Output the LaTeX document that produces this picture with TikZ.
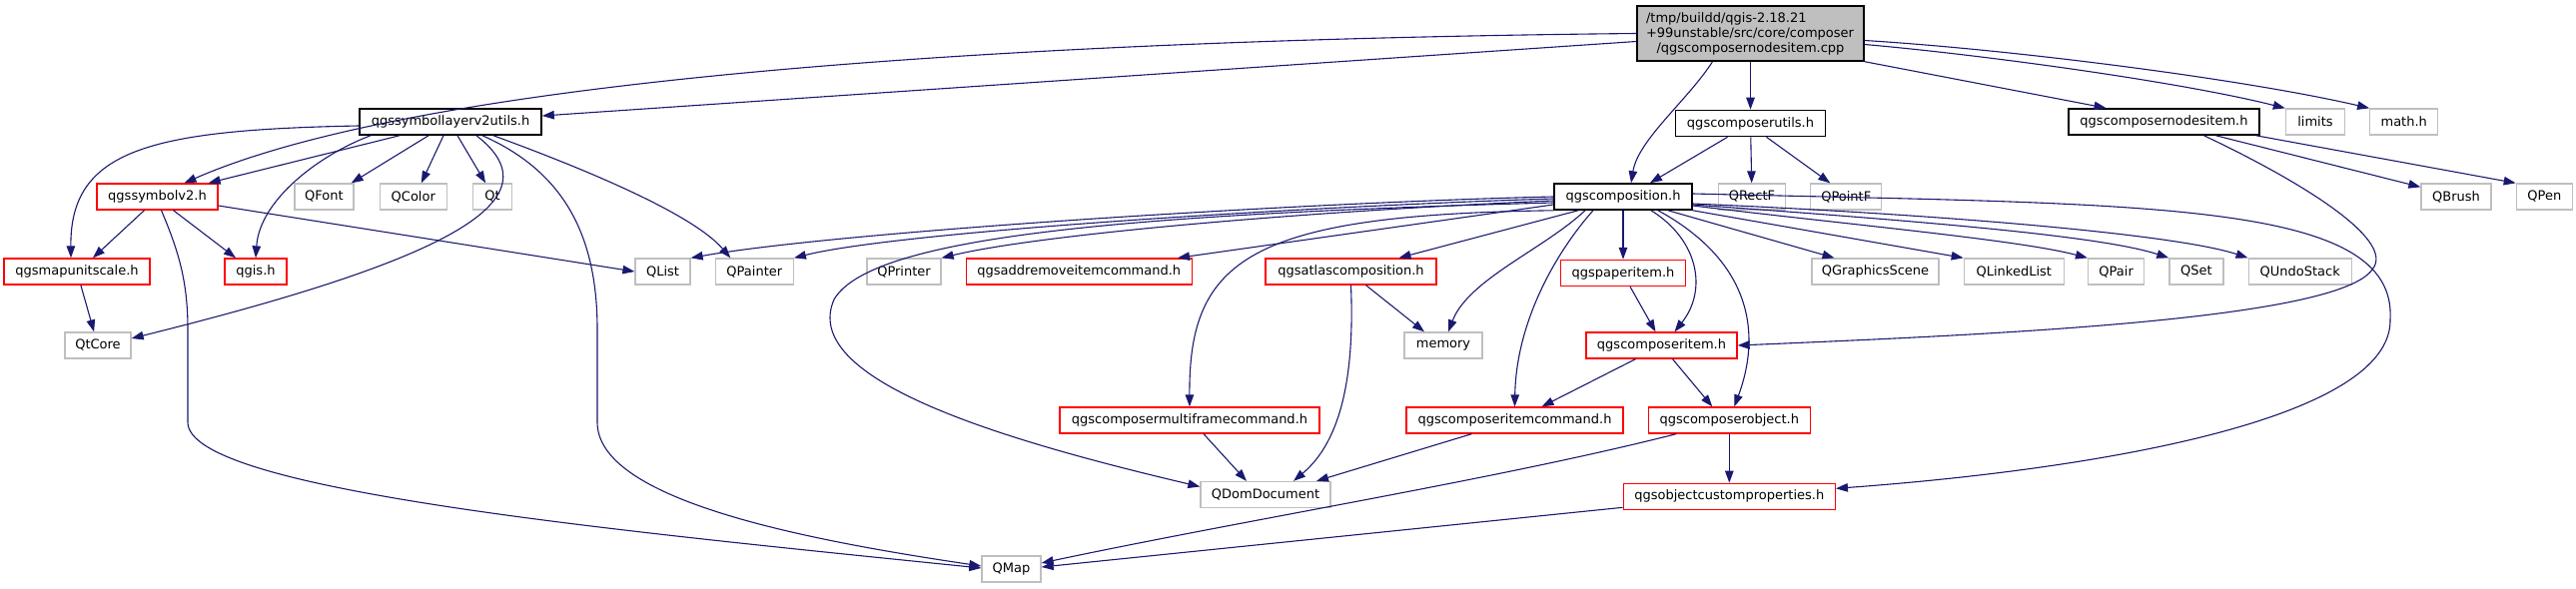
\documentclass[tikz,border=0pt]{standalone}
\usepackage{fontspec}
\setmainfont{DejaVu Sans}
\usetikzlibrary{arrows.meta, positioning}
\definecolor{edgeblue}{RGB}{25,25,112}
\definecolor{sysgray}{RGB}{191,191,191}

\begin{document}
\begin{tikzpicture}[
    x=1pt, y=-1pt,
    node distance=49pt and 24pt,
    current/.style={rectangle, draw=black, line width=1.4pt, fill=sysgray, align=left, text width=209pt, inner xsep=9pt, inner ysep=0pt, minimum height=55pt, font=\fontsize{13}{15}\selectfont},
    header/.style={rectangle, draw=black, line width=1.6pt, inner sep=0pt, minimum height=26pt, font=\fontsize{13}{15}\selectfont},
    partial/.style={rectangle, draw=red, line width=1.3pt, inner sep=0pt, minimum height=26pt, font=\fontsize{13}{15}\selectfont},
    external/.style={rectangle, draw=sysgray, line width=1.3pt, inner sep=0pt, minimum height=26pt, font=\fontsize{13}{15}\selectfont},
    arrow/.style={-{Triangle[length=12pt, width=8.5pt]}, draw=edgeblue, line width=1.1pt}
]
\useasboundingbox (0,0) rectangle (2579,589);

\node[current] (cpp) at (1752.5,33.5) {/tmp/buildd/qgis-2.18.21\\+99unstable/src/core/composer\\\makebox[209pt]{/qgscomposernodesitem.cpp}};

\node[header, minimum width=182pt] (symlayer) at (451,122) {qgssymbollayerv2utils.h};
\node[header, minimum width=150pt, below=48pt of cpp] (cutils) {qgscomposerutils.h};
\node[header, minimum width=191pt] (nodesh) at (2166.5,122) {qgscomposernodesitem.h};
\node[external, minimum width=59pt, right=25pt of nodesh] (limits) {limits};
\node[external, minimum width=68pt, right=of limits] (mathh) {math.h};

\node[partial, minimum width=121pt] (symbol) at (157.5,197) {qgssymbolv2.h};
\node[external, minimum width=59pt] (qfont) at (324.5,197) {QFont};
\node[external, minimum width=67pt, right=25pt of qfont] (qcolor) {QColor};
\node[external, minimum width=39pt, right=25pt of qcolor] (qt) {Qt};
\node[header, minimum width=138pt] (composition) at (1625,197) {qgscomposition.h};
\node[external, minimum width=67pt, right=25pt of composition] (qrectf) {QRectF};
\node[external, minimum width=71pt, right=of qrectf] (qpointf) {QPointF};
\node[external, minimum width=70pt] (qbrush) at (2459,197) {QBrush};
\node[external, minimum width=56pt, right=of qbrush] (qpen) {QPen};

\node[partial, minimum width=146pt] (mapunit) at (77,272) {qgsmapunitscale.h};
\node[partial, minimum width=62pt] (qgis) at (256,272) {qgis.h};
\node[external, minimum width=55pt] (qlist) at (663.5,272) {QList};
\node[external, minimum width=78pt, right=of qlist] (qpainter) {QPainter};
\node[external, minimum width=74pt] (qprinter) at (905,272) {QPrinter};
\node[partial, minimum width=226pt, right=of qprinter] (addremove) {qgsaddremoveitemcommand.h};
\node[partial, minimum width=171pt] (atlas) at (1352.5,272) {qgsatlascomposition.h};
\node[partial, minimum width=125pt, below=of composition] (paper) {qgspaperitem.h};
\node[external, minimum width=127pt] (gscene) at (1877.5,272) {QGraphicsScene};
\node[external, minimum width=100pt, right=of gscene] (qlinked) {QLinkedList};
\node[external, minimum width=56pt, right=23pt of qlinked] (qpair) {QPair};
\node[external, minimum width=54pt, right=of qpair] (qset) {QSet};
\node[external, minimum width=103pt, right=of qset] (qundo) {QUndoStack};

\node[external, minimum width=66pt] (qtcore) at (98,346) {QtCore};
\node[external, minimum width=78pt] (memory) at (1445,346) {memory};
\node[partial, minimum width=151pt] (citem) at (1663.5,346) {qgscomposeritem.h};

\node[partial, minimum width=260pt] (multiframe) at (1191,421) {qgscomposermultiframecommand.h};
\node[partial, minimum width=217pt] (itemcmd) at (1516.5,421) {qgscomposeritemcommand.h};
\node[partial, minimum width=162pt, right=of itemcmd] (cobject) {qgscomposerobject.h};

\node[external, minimum width=130pt] (qdom) at (1267,495.5) {QDomDocument};
\node[partial, minimum width=212pt, below=of cobject] (custprops) {qgsobjectcustomproperties.h};

\node[external, minimum width=59pt] (qmap) at (1012.5,570) {QMap};

\draw[arrow] ([yshift=-8pt]cpp.west) -- ([yshift=6pt]symlayer.east);
\draw[arrow] (cpp.west) .. controls (1000,40) and (420,80) .. ([xshift=27pt]symbol.north);
\draw[arrow] ([xshift=-38pt]cpp.south) .. controls (1690,100) and (1640,140) .. ([xshift=8pt]composition.north);
\draw[arrow] (cpp) -- (cutils);
\draw[arrow] (cpp.south east) -- ([xshift=-58pt]nodesh.north);
\draw[arrow] ([yshift=-11pt]cpp.east) .. controls (1986,55) and (2183,82) .. (limits.north west);
\draw[arrow] ([yshift=-7pt]cpp.east) .. controls (2020,50) and (2250,80) .. (mathh.north west);

\draw[arrow] ([yshift=-4pt]symlayer.west) .. controls (150,130) and (70,150) .. ([xshift=-6pt]mapunit.north);
\draw[arrow] ([xshift=-51pt]symlayer.south) -- ([xshift=-10pt]symbol.north east);
\draw[arrow] ([xshift=-80pt]symlayer.south) .. controls (320,155) and (260,200) .. (qgis.north);
\draw[arrow] ([xshift=-22pt]symlayer.south) -- ([xshift=-3pt]qfont.north east);
\draw[arrow] ([xshift=-7pt]symlayer.south) -- ([xshift=8pt]qcolor.north);
\draw[arrow] ([xshift=7pt]symlayer.south) -- ([xshift=-7pt]qt.north);
\draw[arrow] ([xshift=26pt]symlayer.south) .. controls (560,200) and (450,260) .. ([yshift=7pt]qtcore.east);
\draw[arrow] ([xshift=32pt]symlayer.south) .. controls (560,170) and (598,230) .. (598,330) -- (598,423) .. controls (598,500) and (800,540) .. ([yshift=3pt]qmap.west);
\draw[arrow] ([xshift=43pt]symlayer.south) .. controls (560,160) and (690,210) .. ([xshift=-24pt]qpainter.north);

\draw[arrow] ([xshift=-13pt]symbol.south) -- ([xshift=16pt]mapunit.north);
\draw[arrow] ([xshift=16pt]symbol.south) -- ([xshift=-20pt]qgis.north);
\draw[arrow] ([yshift=-9pt]symbol.east) -- (qlist.west);
\draw[arrow] ([xshift=4pt]symbol.south) .. controls (178,250) and (188,280) .. (188,330) -- (188,423) .. controls (188,490) and (600,530) .. ([yshift=1pt]qmap.west);
\draw[arrow] (mapunit) -- (qtcore);

\draw[arrow] (composition.west) .. controls (1300,203) and (840,232) .. (qlist.north east);
\draw[arrow] ([yshift=-2pt]composition.west) .. controls (1300,207) and (900,232) .. (qpainter.north east);
\draw[arrow] ([yshift=-4pt]composition.west) .. controls (1300,212) and (1040,235) .. (qprinter.north east);
\draw[arrow] ([yshift=-8pt]composition.west) -- ([xshift=-15pt]addremove.north east);
\draw[arrow] ([yshift=-6pt]composition.west) .. controls (1100,215) and (870,240) .. (835,300) .. controls (800,380) and (1000,440) .. ([yshift=8pt]qdom.west);
\draw[arrow] ([xshift=-45pt]composition.south) -- ([xshift=48pt]atlas.north);
\draw[arrow] ([xshift=-38pt]composition.south) .. controls (1545,250) and (1470,280) .. ([xshift=5pt]memory.north);
\draw[arrow] (composition.south west) .. controls (1250,215) and (1190,260) .. (multiframe.north);
\draw[arrow] ([xshift=-30pt]composition.south) .. controls (1560,250) and (1518,320) .. (itemcmd.north);
\draw[arrow] (composition) -- (paper);
\draw[arrow] ([xshift=28pt]composition.south) .. controls (1700,240) and (1710,290) .. ([xshift=13pt]citem.north);
\draw[arrow] ([xshift=35pt]composition.south) .. controls (1750,260) and (1765,330) .. ([xshift=5pt]cobject.north);
\draw[arrow] ([xshift=45pt]composition.south) -- ([xshift=-41pt]gscene.north);
\draw[arrow] (composition.south east) -- (qlinked.north west);
\draw[arrow] ([yshift=-9pt]composition.east) .. controls (1850,225) and (2020,240) .. (qpair.north west);
\draw[arrow] ([yshift=-8pt]composition.east) .. controls (1900,220) and (2100,235) .. (qset.north west);
\draw[arrow] ([yshift=-7pt]composition.east) .. controls (1950,215) and (2180,235) .. (qundo.north west);
\draw[arrow] ([yshift=3pt]composition.east) .. controls (2150,205) and (2400,200) .. (2393,320) .. controls (2395,420) and (2100,470) .. ([yshift=8pt]custprops.east);

\draw[arrow] ([xshift=40pt]nodesh.south) .. controls (2300,180) and (2400,240) .. (2375,270) .. controls (2340,320) and (2000,335) .. (citem.east);
\draw[arrow] ([xshift=52pt]nodesh.south) -- ([yshift=-4pt]qbrush.north west);
\draw[arrow] ([xshift=-4pt]nodesh.south east) -- (qpen.north west);

\draw[arrow] ([xshift=-23pt]cutils.south) -- ([xshift=27pt]composition.north);
\draw[arrow] (cutils) -- (qrectf);
\draw[arrow] ([xshift=16pt]cutils.south) -- ([xshift=-16pt]qpointf.north);

\draw[arrow] ([xshift=15pt]atlas.south) -- ([xshift=-19pt]memory.north);
\draw[arrow] (atlas.south) .. controls (1356,370) and (1345,440) .. ([xshift=28pt]qdom.north);
\draw[arrow] ([xshift=7pt]paper.south) -- ([xshift=-6pt]citem.north);
\draw[arrow] ([xshift=-26pt]citem.south) -- ([xshift=27pt]itemcmd.north);
\draw[arrow] ([xshift=11pt]citem.south) -- ([xshift=-17pt]cobject.north);
\draw[arrow] ([xshift=14pt]multiframe.south) -- ([xshift=-19pt]qdom.north);
\draw[arrow] ([xshift=-43pt]itemcmd.south) -- ([xshift=51pt]qdom.north);
\draw[arrow] (cobject) -- (custprops);
\draw[arrow] ([xshift=-53pt]cobject.south) .. controls (1500,480) and (1250,520) .. ([yshift=6pt]qmap.east);
\draw[arrow] ([yshift=-11pt]custprops.west) -- ([yshift=2pt]qmap.east);
\end{tikzpicture}
\end{document}
